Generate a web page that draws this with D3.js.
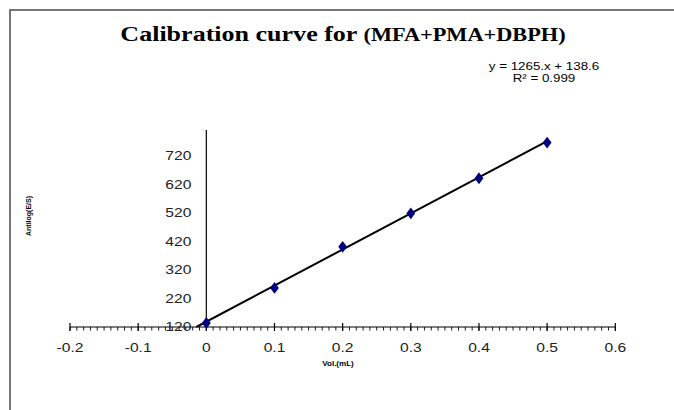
<!DOCTYPE html>
<html>
<head>
<meta charset="utf-8">
<script src="https://cdn.jsdelivr.net/npm/d3@7"></script>
<style>
  html, body { margin: 0; padding: 0; background: #fff; }
  svg { display: block; }
</style>
</head>
<body>
<svg id="chart" width="674" height="410"></svg>
<script>
// ---- data ----
const volumes = [0, 0.1, 0.2, 0.3, 0.4, 0.5];
const antilogES = [134, 257, 401, 518, 641, 766];
const xTicks = [-0.2, -0.1, 0, 0.1, 0.2, 0.3, 0.4, 0.5, 0.6];
const xTickLabels = ["-0.2", "-0.1", "0", "0.1", "0.2", "0.3", "0.4", "0.5", "0.6"];
const yTicks = [120, 220, 320, 420, 520, 620, 720];
const trendSlope = 1265;
const trendIntercept = 138.6;
const titleMain = "Calibration curve for ";
const titleSub = "(MFA+PMA+DBPH)";
const equationLines = ["y = 1265.x + 138.6", "R\u00B2 = 0.999"];

const svg = d3.select("#chart");
const sans = "Liberation Sans, Arial, sans-serif";

// outer frame (only top and left edges visible)
svg.append("rect")
  .attr("x", 10).attr("y", 10)
  .attr("width", 700).attr("height", 440)
  .attr("fill", "none")
  .attr("stroke", "#555").attr("stroke-width", 1.6);

const x = d3.scaleLinear().domain([-0.2, 0.6]).range([70, 615.3]);
const y = d3.scaleLinear().domain([120, 810]).range([327, 130]);

// x axis with minor ticks
const xAxisY = y(120);
const minorTicks = d3.range(-0.2, 0.6001, 0.01).map(v => Math.round(v * 100) / 100);
svg.append("g")
  .selectAll("line")
  .data(minorTicks)
  .join("line")
  .attr("x1", d => x(d)).attr("x2", d => x(d))
  .attr("y1", xAxisY).attr("y2", xAxisY + 3.5)
  .attr("stroke", "#000").attr("stroke-width", 0.9);

svg.append("line")
  .attr("x1", x(-0.2)).attr("x2", x(0.6))
  .attr("y1", xAxisY).attr("y2", xAxisY)
  .attr("stroke", "#000").attr("stroke-width", 1.2);

svg.append("g")
  .selectAll("line")
  .data(xTicks)
  .join("line")
  .attr("x1", d => x(d)).attr("x2", d => x(d))
  .attr("y1", xAxisY - 4).attr("y2", xAxisY + 4)
  .attr("stroke", "#000").attr("stroke-width", 1.2);

svg.append("g")
  .selectAll("text")
  .data(xTicks)
  .join("text")
  .attr("transform", d => `translate(${x(d)},${xAxisY + 25}) scale(1.3,1)`)
  .attr("text-anchor", "middle")
  .attr("font-family", sans)
  .attr("font-size", 12)
  .attr("fill", "#222")
  .text((d, i) => xTickLabels[i]);

// y axis (at x = 0)
svg.append("line")
  .attr("x1", x(0)).attr("x2", x(0))
  .attr("y1", y(810)).attr("y2", xAxisY)
  .attr("stroke", "#000").attr("stroke-width", 1.2);

svg.append("g")
  .selectAll("text")
  .data(yTicks)
  .join("text")
  .attr("transform", d => `translate(${x(0) - 15},${y(d) + 4.3}) scale(1.3,1)`)
  .attr("text-anchor", "end")
  .attr("font-family", sans)
  .attr("font-size", 12)
  .attr("fill", "#222")
  .text(d => d);

// trendline
const xStart = (120 - trendIntercept) / trendSlope;
svg.append("line")
  .attr("x1", x(xStart)).attr("y1", y(trendSlope * xStart + trendIntercept))
  .attr("x2", x(0.5)).attr("y2", y(trendSlope * 0.5 + trendIntercept))
  .attr("stroke", "#000").attr("stroke-width", 2);

// data markers (diamonds)
const diamond = d3.symbol().type(d3.symbolDiamond).size(40);
svg.append("g")
  .selectAll("path")
  .data(volumes.map((v, i) => [v, antilogES[i]]))
  .join("path")
  .attr("d", diamond)
  .attr("transform", d => `translate(${x(d[0])},${y(d[1])}) scale(1.3,1)`)
  .attr("fill", "#000080");

// title
const title = svg.append("text")
  .attr("transform", "translate(343,41) scale(1.24,1)")
  .attr("text-anchor", "middle")
  .attr("font-family", "Liberation Serif, Times New Roman, serif")
  .attr("font-weight", "bold")
  .attr("fill", "#000");
title.append("tspan").attr("font-size", 21).text(titleMain);
title.append("tspan").attr("font-size", 18).text(titleSub);

// equation
svg.append("g")
  .selectAll("text")
  .data(equationLines)
  .join("text")
  .attr("transform", (d, i) => `translate(544,${70 + i * 12}) scale(1.16,1)`)
  .attr("text-anchor", "middle")
  .attr("font-family", sans)
  .attr("font-size", 11.5)
  .attr("fill", "#000")
  .text(d => d);

// axis titles
svg.append("text")
  .attr("transform", `translate(31,216) rotate(-90)`)
  .attr("text-anchor", "middle")
  .attr("font-family", sans)
  .attr("font-weight", "bold")
  .attr("font-size", 7)
  .attr("fill", "#000")
  .text("Antilog(E/S)");

svg.append("text")
  .attr("transform", "translate(338,366) scale(1.15,1)")
  .attr("text-anchor", "middle")
  .attr("font-family", sans)
  .attr("font-weight", "bold")
  .attr("font-size", 7)
  .attr("fill", "#000")
  .text("Vol.(mL)");
</script>
</body>
</html>
